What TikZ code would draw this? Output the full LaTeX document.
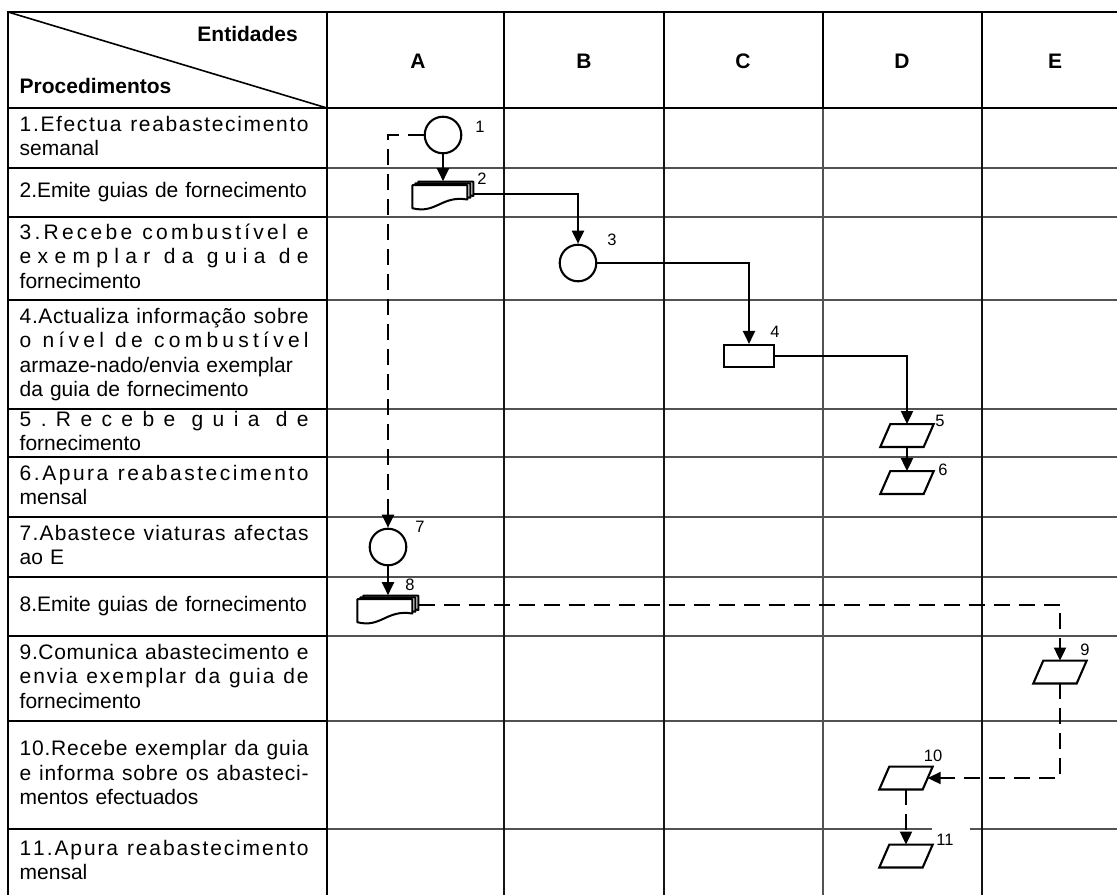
\documentclass[tikz,border=0pt]{standalone}
\usepackage{fontspec}
\setmainfont{Liberation Sans}
\usetikzlibrary{arrows.meta,calc}

% Spread a line over the full text width, with equal extra room between letters
\ExplSyntaxOn
\seq_new:N \l__spread_words_seq
\cs_new_protected:Npn \spread_word:n #1
  { \tl_map_inline:nn {#1} { ##1 \hfil } \unskip }
\NewDocumentCommand \spreadtext { m }
  {
    \seq_set_split:Nnn \l__spread_words_seq { ~ } {#1}
    \seq_map_indexed_inline:Nn \l__spread_words_seq
      {
        \int_compare:nNnT {##1} > {1} { \c_space_tl \hfil }
        \spread_word:n {##2}
      }
  }
\ExplSyntaxOff
\newcommand\dist[1]{\makebox[\linewidth][s]{\spreadtext{#1}}}
\newcommand\wjust[1]{\makebox[\linewidth][s]{#1}}
\newcommand\ls{\rule[-4.5pt]{0pt}{19pt}}

% stacked documents symbol drawn over a named placeholder node
\newcommand\docstack[1]{%
  \begin{scope}[shift={(#1.south west)}]
    \foreach \pg in {2,1,0}{
      \draw[line width=2pt, fill=white, line join=round]
        (3*\pg,-1.8*\pg) -- ++(0,-23) -- ++(55,0) -- ++(0,14.3)
        .. controls ($(29+3*\pg,-13-1.8*\pg)$) and ($(24+3*\pg,6-1.8*\pg)$) .. (3*\pg,-1.8*\pg) -- cycle;
    }
  \end{scope}}

% input/output parallelogram drawn over a named placeholder node
\newcommand\slanted[1]{%
  \draw[line width=2.1pt, fill=white]
    ($(#1.south west)+(-5,0)$) -- ($(#1.south east)+(-5,0)$) --
    ($(#1.north east)+(5,0)$) -- ($(#1.north west)+(5,0)$) -- cycle;}

\begin{document}
\begin{tikzpicture}[x=1pt, y=-1pt,
  grid thick/.style={line width=2.2pt, black},
  grid dark/.style={line width=1.5pt, black!92},
  grid faint/.style={line width=1.5pt, black!68},
  lbl/.style={anchor=west, inner sep=0pt, text width=289pt, align=left,
    font=\fontsize{21}{24.5}\selectfont},
  hdr/.style={inner sep=0pt, font=\fontsize{21}{24}\selectfont\bfseries},
  num/.style={inner sep=0pt, font=\fontsize{16.5}{18}\selectfont},
  sym/.style={draw, line width=2.1pt, fill=white, inner sep=0pt},
  proc/.style={sym, circle, minimum size=36.6pt},
  oper/.style={sym, rectangle, minimum width=50pt, minimum height=22pt},
  inout/.style={inner sep=0pt, minimum width=43pt, minimum height=22.5pt},
  docs/.style={inner sep=0pt, minimum width=61pt, minimum height=26.6pt},
  flow/.style={line width=2.1pt, -{Triangle[length=13pt,width=12pt]}},
  dflow/.style={flow, dash pattern=on 16pt off 9pt},
]
\useasboundingbox (0,0) rectangle (1117,895);
\fill[white] (0,0) rectangle (1117,895);

% ---- table grid: body lines
\foreach \yy in {168,217,300,409,457,517,577,636,721,829}
  \draw[grid faint] (327,\yy) -- (1117,\yy);
\draw[grid dark] (504,108) -- (504,895);
\draw[grid dark] (664,108) -- (664,895);
\draw[grid faint] (823,108) -- (823,895);
\draw[grid dark] (982,108) -- (982,895);
% ---- procedure column and header lines
\foreach \yy in {168,217,300,409,457,517,577,636,721,829}
  \draw[grid thick] (8,\yy) -- (327,\yy);
\draw[grid thick] (8,12) -- (1117,12);
\draw[grid thick] (8,108) -- (1117,108);
\draw[grid thick] (8,11) -- (8,895);
\draw[grid thick] (327,11) -- (327,895);
\foreach \xx in {504,664,823,982}
  \draw[grid thick] (\xx,11) -- (\xx,108);
\draw[line width=1.6pt] (8,12) -- (327,108);

% ---- header
\node[hdr, anchor=base east] (ent) at (298,41.5) {Entidades};
\node[hdr, anchor=base west] (proc) at (19.5,93) {Procedimentos};
\node[hdr] (hA) at (418,61) {A};
\node[hdr] (hB) at (584,61) {B};
\node[hdr] (hC) at (743,61) {C};
\node[hdr] (hD) at (902,61) {D};
\node[hdr] (hE) at (1055,61) {E};

% ---- procedures
\node[lbl] (t1) at (19.5,138) {\ls\dist{1.Efectua reabastecimento}\\\ls semanal};
\node[lbl] (t2) at (19.5,192.5) {\ls 2.Emite guias de fornecimento};
\node[lbl] (t3) at (19.5,258.5) {\ls\dist{3.Recebe combustível e}\\\ls\dist{exemplar da guia de}\\\ls fornecimento};
\node[lbl] (t4) at (19.5,354.5) {\ls\dist{4.Actualiza informação sobre}\\\ls\dist{o nível de combustível}\\\ls\wjust{armaze-nado/envia exemplar}\\\ls da guia de fornecimento};
\node[lbl] (t5) at (19.5,433) {\ls\dist{5.Recebe guia de}\\\ls fornecimento};
\node[lbl] (t6) at (19.5,487) {\ls\dist{6.Apura reabastecimento}\\\ls mensal};
\node[lbl] (t7) at (19.5,547) {\ls\dist{7.Abastece viaturas afectas}\\\ls ao E};
\node[lbl] (t8) at (19.5,606.5) {\ls 8.Emite guias de fornecimento};
\node[lbl] (t9) at (19.5,678.5) {\ls\dist{9.Comunica abastecimento e}\\\ls\dist{envia exemplar da guia de}\\\ls fornecimento};
\node[lbl] (t10) at (19.5,775) {\ls\dist{10.Recebe exemplar da guia}\\\ls\dist{e informa sobre os abasteci-}\\\ls mentos efectuados};
\node[lbl] (t11) at (19.5,862) {\ls\dist{11.Apura reabastecimento}\\\ls mensal};

% ---- flow symbols
\node[proc] (c1) at (443,135) {};
\node[docs] (d2) at (443,194.7) {};
\node[proc] (c3) at (578,263) {};
\node[oper] (r4) at (749,356) {};
\node[inout] (p5) at (907,435.5) {};
\node[inout] (p6) at (907,482.5) {};
\node[proc] (c7) at (388,547) {};
\node[docs] (d8) at (388,608.7) {};
\node[inout] (p9) at (1060,672) {};
\node[inout] (p10) at (906,778) {};
\node[inout] (p11) at (906,856) {};

% ---- connectors
\draw[flow] (c1) -- (d2);
\draw[flow] ([yshift=1pt]d2.east) -| (c3);
\draw[flow] (c3) -| (r4);
\draw[flow] (r4) -| (p5);
\draw[flow] (p5) -- (p6);
\draw[dflow] (c1) -| (c7);
\draw[flow] (c7) -- (d8);
\draw[dflow] ([yshift=4pt]d8.east) -| (p9);
\draw[dflow] (p9) |- (p10);
\draw[dflow] (p10) -- (p11);

\docstack{d2}
\docstack{d8}
\foreach \p in {p5,p6,p9,p10,p11} {\slanted{\p}}

% ---- step numbers
\fill[white] (932,826) rectangle (970,831.5);
\node[num] (n1) at (480,127) {1};
\node[num] (n2) at (482,179) {2};
\node[num] (n3) at (612,240) {3};
\node[num] (n4) at (775,332) {4};
\node[num] (n5) at (940,421) {5};
\node[num] (n6) at (943,470) {6};
\node[num] (n7) at (420,527) {7};
\node[num] (n8) at (410,585) {8};
\node[num] (n9) at (1085,650) {9};
\node[num] (n10) at (933,756) {10};
\node[num] (n11) at (945,840) {11};
\end{tikzpicture}
\end{document}
